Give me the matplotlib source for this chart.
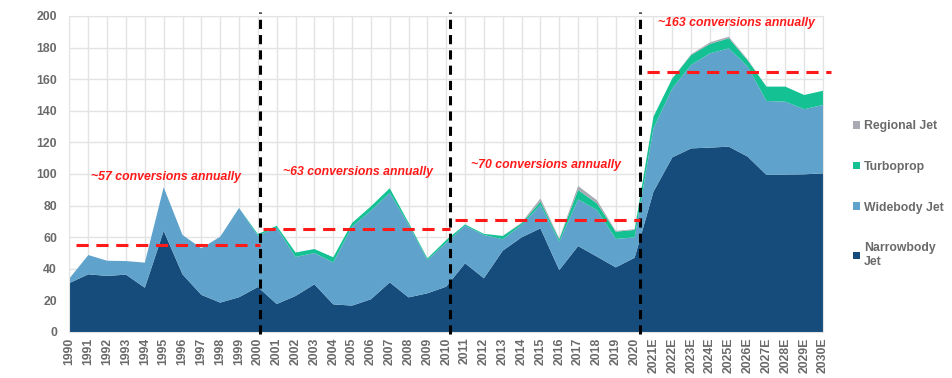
import numpy as np
import matplotlib
matplotlib.use("Agg")
import matplotlib.pyplot as plt
from matplotlib.patches import Patch

plt.rcParams['font.family'] = ['Liberation Sans', 'DejaVu Sans']

# years and labels
years = np.arange(1990, 2031)
year_labels = [str(y) for y in range(1990, 2021)] + [f"{y}E" for y in range(2021, 2031)]

# conversions per year, by aircraft type
narrowbody = [31, 36.5, 35.5, 36.3, 28, 64, 36.5, 23.5, 18.6, 22,
              28.5, 17.7, 22.8, 30.2, 17.5, 16.7, 20.7, 31.4, 21.9, 24.5,
              28.7, 43.5, 34, 51.5, 59.9, 65.6, 39.2, 54.4, 47.7, 40.9,
              47, 88.8, 110.5, 116.2, 116.7, 117.3, 111, 99.4, 99.6, 99.8, 100.4]
widebody = [3, 12.2, 9.6, 8.6, 15.9, 27.6, 24.9, 29.5, 41.7, 56.5,
            32.5, 48.3, 24.7, 19.8, 26.5, 49.9, 56.1, 56.6, 46.1, 21.1,
            27.8, 23.8, 27.4, 7.2, 7.8, 14.8, 18, 29.6, 29.5, 18,
            12.9, 40.2, 43.7, 52.8, 59.7, 62.2, 57, 46.8, 46.2, 41.2, 43.3]
turboprop = [0, 0, 0, 0, 0, 0, 0, 0, 0, 0,
             1, 1.2, 2.8, 2.5, 3.3, 2.4, 2.7, 3, 1.2, 1,
             1.7, 0.8, 0.7, 2.1, 1.1, 2.1, 1.5, 5.9, 4.2, 4.6,
             4.7, 7.3, 6.3, 6.3, 5.9, 6.4, 4, 9.1, 9.5, 9, 9]
regional = [0, 0, 0, 0, 0, 0, 0, 0, 0, 0,
            0, 0, 0, 0, 0, 0, 0, 0, 0, 0,
            0, 0, 0, 0, 0.5, 2, 0.5, 2.5, 2, 0.5,
            0.5, 0, 0, 0.5, 1, 1, 0.5, 0, 0, 0, 0]

series_names = ['Narrowbody\nJet', 'Widebody Jet', 'Turboprop', 'Regional Jet']
colors = ['#154C7B', '#5FA3CC', '#13C193', '#A9A9B3']

# period averages (start, end, level, label, label x, label y)
periods = [
    (1990.35, 2000.1, 55, '~57 conversions annually', 1995.1, 98),
    (2000.25, 2010.2, 65.5, '~63 conversions annually', 2005.3, 101),
    (2010.45, 2020.3, 71, '~70 conversions annually', 2015.3, 105.5),
    (2020.65, 2030.4, 164.5, '~163 conversions annually', 2025.4, 195.5),
]
boundaries = [2000.1, 2010.2, 2020.3]

fig = plt.figure(figsize=(9.52, 3.78), dpi=100)
ax = fig.add_axes([0.073, 0.1217, 0.7915, 0.836])

ax.stackplot(years, narrowbody, widebody, turboprop, regional,
             colors=colors, linewidth=0, zorder=2)

ax.set_xlim(1990, 2030)
ax.set_ylim(0, 200)
ax.set_yticks(range(0, 201, 20))
ax.set_xticks(years)
ax.set_xticklabels(year_labels, rotation=90)
ax.grid(True, color='#E3E3E3', linewidth=1, zorder=0)
ax.set_axisbelow(True)
ax.tick_params(length=0, labelsize=8.8, labelcolor='#6A6A6A')
ax.tick_params(axis='y', pad=9)
ax.tick_params(axis='x', pad=4)
for lab in ax.get_xticklabels() + ax.get_yticklabels():
    lab.set_fontweight('bold')
for s in ax.spines.values():
    s.set_color('#E3E3E3')

for b in boundaries:
    ax.plot([b, b], [-1, 202.5], color='black', linewidth=2.2,
            linestyle=(0, (3, 2)), clip_on=False, zorder=4)

for x0, x1, lvl, txt, tx, ty in periods:
    ax.plot([x0, x1], [lvl, lvl], color='#FF1A1A', linewidth=2.2,
            linestyle=(0, (4, 2.5)), clip_on=False, zorder=5)
    ax.text(tx, ty, txt, color='#FF1A1A', fontsize=8.8, fontweight='bold',
            fontstyle='italic', ha='center', va='center', zorder=6)

handles = [Patch(facecolor=c, edgecolor='none') for c in colors]
leg = fig.legend(handles[::-1], series_names[::-1], loc='upper left',
                 bbox_to_anchor=(0.891, 0.695), frameon=False,
                 fontsize=8.8, handlelength=0.6, handleheight=0.6,
                 handletextpad=0.3, labelspacing=2.35, borderaxespad=0)
for t in leg.get_texts():
    t.set_color('#6A6A6A')
    t.set_fontweight('bold')

fig.savefig('out.png', dpi=100)
